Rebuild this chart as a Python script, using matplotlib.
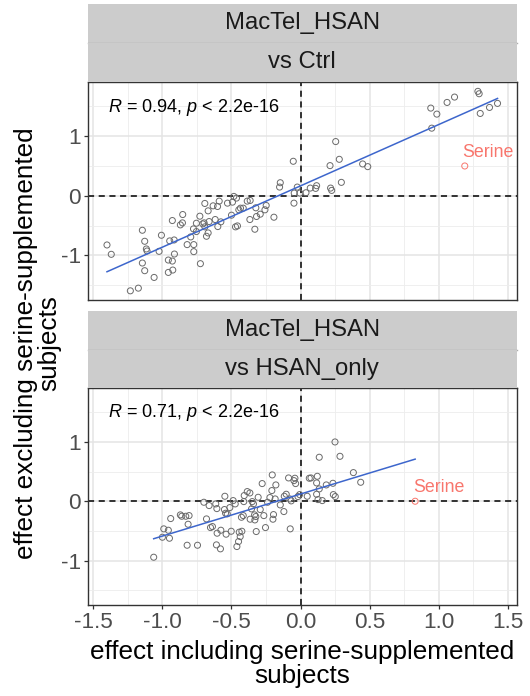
import numpy as np
import matplotlib
matplotlib.use("Agg")
import matplotlib.pyplot as plt
from matplotlib.ticker import MultipleLocator

plt.rcParams['font.family'] = ['Liberation Sans', 'DejaVu Sans']
plt.rcParams['mathtext.fontset'] = 'custom'
plt.rcParams['mathtext.rm'] = 'Liberation Sans'
plt.rcParams['mathtext.it'] = 'Liberation Sans:italic'

# ---------------- data ----------------
ctrl_x = [-1.401, -1.370, -1.232, -1.174, -1.145, -1.128, -1.116, -1.111, -1.145, -1.128,
          -1.060, -1.024, -1.007, -0.957, -0.928, -0.957, -0.925, -0.913, -0.947, -0.915,
          -0.928, -0.870, -0.855, -0.853, -0.821, -0.795, -0.775, -0.773, -0.773, -0.754,
          -0.754, -0.729, -0.725, -0.708, -0.698, -0.693, -0.681, -0.669, -0.669, -0.662,
          -0.693, -0.633, -0.618, -0.601, -0.589, -0.599, -0.577, -0.529, -0.500, -0.493,
          -0.483, -0.471, -0.457, -0.464, -0.447, -0.435, -0.415, -0.386, -0.365, -0.367,
          -0.331, -0.324, -0.319, -0.292, -0.258, -0.249, -0.193, -0.152, -0.147, -0.053,
          -0.048, -0.046, -0.024, -0.005, 0.039, 0.070, 0.116, 0.109, 0.213, 0.217,
          0.225, 0.254, 0.280, 0.295, 0.449, 0.486, 0.942, 0.986, 0.949, 1.060,
          1.114, 1.283, 1.292, 1.300, 1.367, 1.425]
ctrl_y = [-0.826, -0.983, -1.596, -1.551, -0.579, -0.764, -0.893, -0.927, -1.129, -1.258,
          -1.371, -0.933, -0.663, -1.079, -1.096, -1.287, -1.247, -0.978, -0.758, -0.742,
          -0.416, -0.489, -0.455, -0.315, -0.820, -0.691, -0.556, -0.820, -0.938, -0.461,
          -0.601, -0.343, -1.140, -0.472, -0.455, -0.129, -0.680, -0.253, -0.624, -0.433,
          -0.522, -0.169, -0.399, -0.180, -0.090, -0.517, -0.438, -0.124, -0.326, -0.107,
          -0.011, -0.522, -0.506, -0.039, -0.236, -0.208, -0.208, -0.090, -0.079, -0.399,
          -0.562, -0.202, -0.348, -0.309, -0.236, -0.163, -0.360, 0.146, 0.219, 0.579,
          -0.124, 0.045, 0.146, 0.045, 0.051, 0.129, 0.169, 0.124, 0.506, 0.129,
          0.090, 0.910, 0.612, 0.225, 0.534, 0.489, 1.472, 1.371, 1.135, 1.567,
          1.657, 1.753, 1.713, 1.382, 1.483, 1.551]
ctrl_serine = [1.188, 0.500]

hsan_x = [-1.063, -1.000, -0.990, -0.957, -0.949, -0.940, -0.870, -0.860, -0.821, -0.814,
          -0.807, -0.831, -0.746, -0.700, -0.681, -0.662, -0.652, -0.638, -0.614, -0.609,
          -0.604, -0.606, -0.580, -0.577, -0.548, -0.551, -0.543, -0.539, -0.531, -0.512,
          -0.502, -0.488, -0.473, -0.461, -0.449, -0.444, -0.437, -0.425, -0.428, -0.415,
          -0.411, -0.408, -0.386, -0.367, -0.365, -0.355, -0.350, -0.341, -0.333, -0.331,
          -0.324, -0.321, -0.307, -0.292, -0.278, -0.266, -0.254, -0.239, -0.222, -0.208,
          -0.205, -0.200, -0.196, -0.184, -0.179, -0.147, -0.121, -0.118, -0.104, -0.087,
          -0.077, -0.075, -0.068, -0.048, -0.041, -0.036, -0.019, -0.007, 0.048, 0.063,
          0.075, 0.121, 0.116, 0.116, 0.135, 0.135, 0.126, 0.157, 0.186, 0.234,
          0.237, 0.251, 0.249, 0.285, 0.382, 0.435]
hsan_y = [-0.944, -0.607, -0.466, -0.489, -0.624, -0.292, -0.230, -0.253, -0.742, -0.388,
          -0.242, -0.253, -0.742, -0.017, -0.298, -0.073, -0.444, -0.427, -0.045, -0.736,
          -0.539, -0.124, -0.803, -0.489, 0.084, -0.140, -0.202, -0.556, -0.213, -0.107,
          -0.506, 0.011, -0.045, -0.764, -0.680, -0.522, -0.596, -0.506, -0.270, -0.242,
          -0.006, 0.096, 0.163, 0.140, -0.303, -0.129, -0.006, -0.045, -0.230, -0.315,
          -0.258, -0.511, 0.067, -0.140, 0.298, -0.242, -0.444, -0.017, 0.062, 0.180,
          0.444, -0.303, -0.225, 0.039, 0.275, -0.062, -0.174, 0.084, 0.118, 0.393,
          0.039, -0.466, 0.006, 0.348, 0.388, 0.298, 0.079, 0.112, 0.084, 0.388,
          0.393, 0.421, 0.309, 0.118, 0.742, 0.208, 0.028, 0.011, 0.275, 0.303,
          0.112, 0.079, 1.000, 0.758, 0.483, 0.320]
hsan_serine = [0.829, 0.000]

facet_top = ["MacTel_HSAN", "MacTel_HSAN"]
facet_bottom = ["vs Ctrl", "vs HSAN_only"]
cor_labels = [r"$\it{R}$ = 0.94, $\it{p}$ < 2.2e-16", r"$\it{R}$ = 0.71, $\it{p}$ < 2.2e-16"]
serine_label = "Serine"
x_ticks = [-1.5, -1.0, -0.5, 0.0, 0.5, 1.0, 1.5]
y_ticks = [-1, 0, 1]
xlabel = "effect including serine-supplemented\nsubjects"
ylabel = "effect excluding serine-supplemented\nsubjects"

# ---------------- layout ----------------
W, H = 530, 696
fig = plt.figure(figsize=(W / 100, H / 100), dpi=100)
fig.patch.set_facecolor("white")

def fx(px):
    return px / W

def fy(py):
    return 1 - py / H

left_px, right_px = 87.5, 517
panels_px = [(82, 300), (388, 605)]
strips_px = [(4, 43, 82), (311, 349.5, 388)]

red = "#F8766D"
datasets = [(ctrl_x, ctrl_y, ctrl_serine), (hsan_x, hsan_y, hsan_serine)]

for i, ((top, bot), (s0, s1, s2), (xs, ys, ser)) in enumerate(zip(panels_px, strips_px, datasets)):
    ax = fig.add_axes([fx(left_px), fy(bot), fx(right_px - left_px), (bot - top) / H])
    ax.set_facecolor("white")
    ax.set_xlim(-1.542, 1.566)
    ax.set_ylim(-1.75, 1.91)
    ax.xaxis.set_major_locator(MultipleLocator(0.5))
    ax.xaxis.set_minor_locator(MultipleLocator(0.25))
    ax.yaxis.set_major_locator(MultipleLocator(1.0))
    ax.yaxis.set_minor_locator(MultipleLocator(0.5))
    ax.set_yticks(y_ticks)
    ax.set_yticklabels([str(t) for t in y_ticks])
    ax.grid(which="major", color="#E4E4E4", lw=1.1, zorder=0)
    ax.grid(which="minor", color="#EDEDED", lw=0.6, zorder=0)
    ax.set_axisbelow(True)
    ax.tick_params(which="minor", length=0)
    ax.tick_params(which="major", length=3.2, width=0.9, color="#333333",
                   labelsize=16.2, labelcolor="#4D4D4D", pad=1.5)
    for sp in ax.spines.values():
        sp.set_color("#333333")
        sp.set_linewidth(1.0)
    if i == 1:
        ax.set_xticks(x_ticks)
        ax.set_xticklabels([f"{t:.1f}" for t in x_ticks])
    else:
        ax.tick_params(axis="x", which="major", labelbottom=False, length=0)

    ax.axhline(0, color="black", lw=1.1, ls=(0, (4, 3)), zorder=2)
    ax.axvline(0, color="black", lw=1.1, ls=(0, (4, 3)), zorder=2)

    ax.scatter(xs, ys, s=19, facecolors="none", edgecolors="#6A6A6A", linewidths=0.7, zorder=3)
    ax.scatter([ser[0]], [ser[1]], s=19, facecolors="none", edgecolors=red, linewidths=0.7, zorder=3)

    allx = np.append(np.array(xs), ser[0])
    ally = np.append(np.array(ys), ser[1])
    k, b = np.polyfit(allx, ally, 1)
    lx = np.array([allx.min(), allx.max()])
    ax.plot(lx, k * lx + b, color="#3D66CC", lw=1.1, zorder=4)

    ax.annotate(serine_label, xy=(ser[0], ser[1]), xytext=(-1.5, 10), textcoords="offset points",
                ha="left", va="center", color=red, fontsize=12.8, zorder=5)
    ax.text(0.048, 0.885, cor_labels[i], transform=ax.transAxes, ha="left", va="center",
            fontsize=13, color="black")

    # strips
    for j, (a, bb, txt) in enumerate([(s0, s1, facet_top[i]), (s1, s2, facet_bottom[i])]):
        sax = fig.add_axes([fx(left_px), fy(bb), fx(right_px - left_px), (bb - a) / H])
        sax.set_facecolor("#CCCCCC")
        sax.set_xticks([])
        sax.set_yticks([])
        for sp in sax.spines.values():
            sp.set_visible(False)
        if j == 0:
            sax.spines["bottom"].set_visible(True)
            sax.spines["bottom"].set_color("#ADADAD")
            sax.spines["bottom"].set_linewidth(1.0)
        sax.text(0.5, 0.5, txt, transform=sax.transAxes, ha="center", va="center",
                 fontsize=17.2, color="#1A1A1A")

fig.text(fx((left_px + right_px) / 2), fy(664), xlabel, ha="center", va="center",
         fontsize=18.8, color="black", linespacing=0.95)
fig.text(fx(38), fy(343), ylabel, ha="center", va="center", rotation=90,
         fontsize=18.8, color="black", linespacing=0.95)

fig.savefig("out.png", dpi=100, facecolor="white")
